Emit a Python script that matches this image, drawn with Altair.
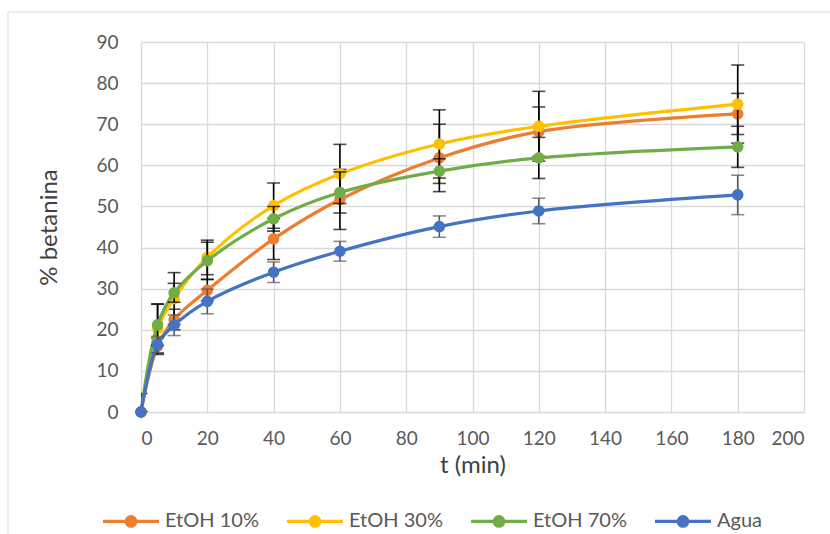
import altair as alt
import pandas as pd

t_min = [0, 5, 10, 20, 40, 60, 90, 120, 180]

series_names = ["EtOH 10%", "EtOH 30%", "EtOH 70%", "Agua"]
series_colors = ["#ED7D31", "#FFC000", "#70AD47", "#4472C4"]
errbar_colors = ["#000000", "#000000", "#000000", "#595959"]

etoh10 = [0, 16.0, 22.5, 29.6, 42.1, 51.7, 61.8, 68.2, 72.5]
etoh30 = [0, 20.3, 27.6, 37.6, 50.2, 57.9, 65.2, 69.5, 74.9]
etoh70 = [0, 21.2, 29.0, 36.8, 47.0, 53.4, 58.6, 61.8, 64.5]
agua = [0, 16.4, 21.1, 26.9, 34.0, 39.1, 45.1, 48.9, 52.8]

err10 = [0, 2.0, 2.5, 2.6, 5.0, 7.3, 8.2, 6.0, 5.0]
err30 = [4.5, 6.0, 6.3, 4.2, 5.5, 7.2, 8.3, 8.5, 9.5]
err70 = [0, 5.0, 2.3, 4.5, 3.0, 5.0, 3.0, 5.0, 5.0]
erra = [0, 2.0, 2.5, 3.0, 2.5, 2.4, 2.6, 3.1, 4.8]

values = [etoh10, etoh30, etoh70, agua]
errors = [err10, err30, err70, erra]

FONT = "Lato"

rows = []
for name, vals, errs in zip(series_names, values, errors):
    for t, v, e in zip(t_min, vals, errs):
        rows.append({"serie": name, "t": t, "v": v, "lo": v - e, "hi": v + e})
df = pd.DataFrame(rows)

x_enc = alt.X("t:Q", scale=alt.Scale(domain=[0, 200], nice=False),
              axis=alt.Axis(title="t (min)", values=list(range(0, 201, 20))))
y_axis = alt.Axis(title="% betanina", values=list(range(0, 91, 10)))
y_scale = alt.Scale(domain=[0, 90], nice=False)

color_scale = alt.Scale(domain=series_names, range=series_colors)

# legend-carrying layer (drawn underneath everything else)
legend_layer = alt.Chart(df).mark_point(filled=True, opacity=1).encode(
    x=x_enc,
    y=alt.Y("v:Q", scale=y_scale, axis=y_axis, title="% betanina"),
    color=alt.Color("serie:N", scale=color_scale, sort=series_names,
                    legend=alt.Legend(title=None)),
)

layers = []
for i, name in enumerate(series_names):
    base = alt.Chart(df).transform_filter(alt.datum.serie == name)
    err = base.mark_errorbar(ticks=alt.TickConfig(size=13, thickness=1.6), thickness=1.6,
                             color=errbar_colors[i], clip=True).encode(
        x=x_enc,
        y=alt.Y("lo:Q", scale=y_scale, axis=y_axis, title="% betanina"),
        y2="hi:Q",
    )
    line = base.mark_line(interpolate="catmull-rom", strokeWidth=3.2).encode(
        x=x_enc,
        y=alt.Y("v:Q", scale=y_scale, axis=y_axis, title="% betanina"),
        color=alt.Color("serie:N", scale=color_scale, legend=None),
    )
    pts = base.mark_point(filled=True, size=135, opacity=1).encode(
        x=x_enc,
        y=alt.Y("v:Q", scale=y_scale, axis=y_axis, title="% betanina"),
        color=alt.Color("serie:N", scale=color_scale, legend=None),
    )
    layers += [line, err, pts]

border_df = pd.DataFrame({"k": [0]})
border_top = alt.Chart(border_df).mark_rule(color="#D9D9D9", strokeWidth=1).encode(
    x=alt.value(-133), x2=alt.value(700), y=alt.value(-30))
border_left = alt.Chart(border_df).mark_rule(color="#D9D9D9", strokeWidth=1).encode(
    x=alt.value(-133), y=alt.value(-30), y2=alt.value(500))

chart = alt.layer(border_top, border_left, legend_layer, *layers).properties(
    width=663, height=370,
    autosize=alt.AutoSizeParams(type="none"),
    padding={"left": 141, "top": 42, "right": 26, "bottom": 122},
).configure_view(stroke=None).configure_axis(
    grid=True, gridColor="#D9D9D9", gridWidth=1.3,
    domain=False, ticks=False,
    labelFont=FONT, labelFontSize=19, labelColor="#595959",
    titleFont=FONT, titleFontSize=24, titleColor="#404040", titleFontWeight="normal",
).configure_axisX(
    labelPadding=17, titlePadding=5,
).configure_axisY(
    labelPadding=23, titlePadding=34,
).configure_legend(
    orient="none", legendX=-40, legendY=449, direction="horizontal", columns=4,
    labelFont=FONT, labelFontSize=20, labelColor="#595959",
    symbolType="M-1,0H1M-0.17,0a0.17,0.17 0 1,0 0.34,0a0.17,0.17 0 1,0 -0.34,0Z",
    symbolSize=3136, symbolStrokeWidth=3.2, columnPadding=21, labelOffset=4,
)

chart.save("out.html", embed_options={"renderer": "svg", "actions": False})
